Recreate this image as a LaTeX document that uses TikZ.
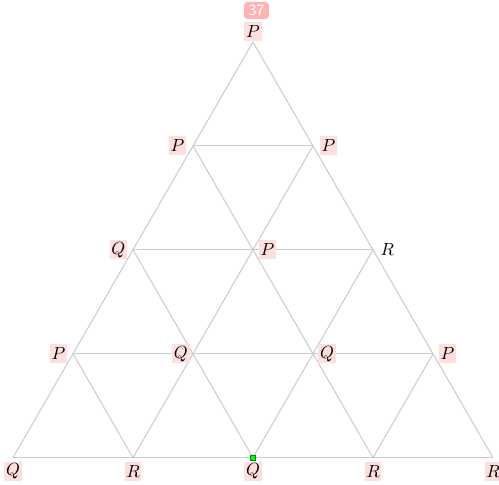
\documentclass[tikz,border=0pt]{standalone}
\usetikzlibrary{positioning}
\newlength{\tristep}
\setlength{\tristep}{2.4cm}
\tikzset{
  gridline/.style={draw=gray!40, line width=0.6pt},
  vlbl/.style={
    inner sep=1pt,
    minimum width=0.28cm,
    minimum height=0.38cm,
    fill=red!13
  },
  vlblplain/.style={vlbl, fill=none},
  badge/.style={fill=red!30, text=white, rounded corners=2pt, font=\sffamily\small,
    inner sep=1pt, minimum width=0.5cm, minimum height=0.34cm},
  hitbox/.style={draw=green!55!black, fill=green, line width=0.3pt, minimum size=0.11cm, inner sep=0pt},
}

\begin{document}
\begin{tikzpicture}
  \useasboundingbox (-5.06,0.84) rectangle (4.92,-8.86);
  % vertices of the subdivided triangle
  \foreach \r in {0,...,4} {
    \foreach \c in {0,...,\r} {
      \coordinate (v\r\c) at ({(\c-\r/2)*\tristep},{-\r*0.866*\tristep});
    }
  }
  % grid
  \foreach \r in {1,...,4} \draw[gridline] (v\r0) -- (v\r\r);
  \foreach \c in {0,...,3} \draw[gridline] (v\c\c) -- (v4\c);
  \foreach \d in {0,...,3} {
    \pgfmathtruncatemacro{\e}{4-\d}
    \draw[gridline] (v\d0) -- (v4\e);
  }
  % labels
  \node[vlbl, above=0.2mm of v00] (l00) {$P$};
  \node[vlbl, left=1.3mm of v10] (l10) {$P$};
  \node[vlbl, right=1.3mm of v11] (l11) {$P$};
  \node[vlbl, left=1.1mm of v20] (l20) {$Q$};
  \node[vlbl, right=1.1mm of v21] (l21) {$P$};
  \node[vlblplain, right=1.1mm of v22] (l22) {$R$};
  \node[vlbl, left=1.1mm of v30] (l30) {$P$};
  \node[vlbl, left=0.6mm of v31] (l31) {$Q$};
  \node[vlbl, right=1mm of v32] (l32) {$Q$};
  \node[vlbl, right=1.1mm of v33] (l33) {$P$};
  \foreach \c/\t in {0/Q,1/R,2/Q,3/R,4/R}
    \node[vlbl, below=0.8mm of v4\c] (l4\c) {$\t$};
  \node[badge, above=0.4mm of l00, xshift=0.07cm] (cnt) {37};
  \node[hitbox] (hit) at (v42) {};
\end{tikzpicture}
\end{document}
